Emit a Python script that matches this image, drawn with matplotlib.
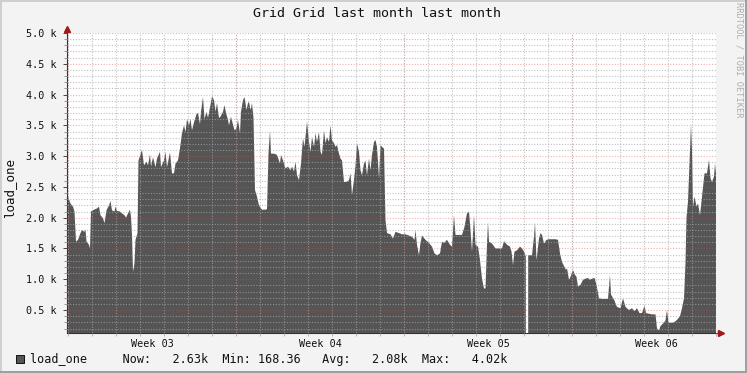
import numpy as np
import matplotlib
matplotlib.use('Agg')
import matplotlib.pyplot as plt
from matplotlib.ticker import MultipleLocator, FuncFormatter
from matplotlib.patches import Rectangle

# ---------------------------------------------
# data (hours since start, load in k)
# ---------------------------------------------
hours = [
    0, 2.5, 5, 6.5, 8, 10, 12.5, 14, 16.5, 17.5, 18.5, 21, 22, 23, 26, 29, 31, 32.5, 35, 36.5,
    38.5, 41, 42.5, 44, 46.5, 47.5, 49, 52, 54, 56.5, 58, 60, 62, 63, 64, 65, 66.5, 67.5, 69, 69.5,
    70.5, 74, 76, 78.5, 80, 82, 83, 85, 87.5, 89, 92, 93, 96, 97.5, 99, 102, 104, 106, 107.5, 110,
    112, 114, 116, 117.5, 119, 121, 122.5, 124, 126, 128.5, 130, 132, 133, 135, 136.5, 138.5, 140, 142.5, 144, 146,
    147.5, 149, 151, 152.5, 155, 156.5, 158, 160, 161, 163, 165, 166.5, 168.5, 170, 172, 173, 175, 176.5, 178.5, 180,
    181, 182.5, 184, 185.5, 187, 189, 191, 194, 197.5, 199, 200.5, 202, 203, 206, 209, 212, 213, 215, 217.5, 220,
    222.5, 224, 226, 227.5, 229, 231, 233, 235, 236.5, 239, 241, 242.5, 244, 246, 247.5, 249, 251, 252.5, 254, 256,
    257.5, 259, 261, 262.5, 264, 266, 267.5, 269, 271, 272.5, 274, 276, 278.5, 281, 282.5, 284, 286, 287.5, 289, 291,
    292.5, 294, 296, 297.5, 299, 301, 302.5, 304, 306, 307.5, 309, 311, 312.5, 314, 316, 317.5, 319, 322.5, 325, 327.5,
    331, 334, 337.5, 341, 344, 346.5, 347.5, 349, 351, 352.5, 354, 357.5, 361, 364, 366.5, 369, 372, 374, 376, 379,
    382, 384, 386, 387.5, 391, 394, 396.5, 399, 401, 402.5, 404, 406, 407.5, 410, 412, 414, 416, 417.5, 419, 420,
    421, 424, 427.5, 431, 434, 436, 439, 442, 443.5, 445, 446.5, 449, 452, 454, 456, 457.8, 459, 460.2, 464, 466,
    467, 468.5, 471, 472.5, 474, 476, 478.5, 481, 484, 487.5, 490, 492, 494, 496.5, 498, 499, 501, 502.5, 505, 507,
    508.5, 510, 512.5, 515, 517.5, 520, 522, 524, 526.5, 528.5, 531, 534, 537.5, 540, 542, 543, 546, 549, 552.5, 555,
    557.5, 561, 564, 566.5, 569, 571.5, 574, 576.5, 578, 581, 584, 587.5, 589, 591, 592.5, 595, 597.5, 599, 600.5, 602.5,
    606, 609, 612, 614, 616, 617.5, 618.5, 620, 622, 623, 624, 625, 626.5, 628.5, 630, 632, 634, 636.5, 639, 641,
    642.5, 644, 646, 647, 648.5,
]
load_k = [
    2.34, 2.23, 2.18, 2.10, 1.61, 1.64, 1.75, 1.80, 1.77, 1.81, 1.61, 1.56, 1.50, 2.10, 2.13, 2.15, 2.18, 2.04, 1.99, 1.91,
    2.12, 2.20, 2.27, 2.12, 2.10, 2.18, 2.11, 2.10, 2.07, 2.04, 2.00, 2.07, 2.13, 2.01, 1.72, 1.12, 1.26, 1.64, 1.72, 1.75,
    2.93, 3.10, 2.85, 2.91, 2.85, 3.03, 2.83, 2.98, 2.82, 2.96, 3.07, 2.82, 2.93, 3.07, 2.82, 3.06, 2.72, 2.72, 2.88, 2.93,
    3.13, 3.37, 3.50, 3.39, 3.60, 3.50, 3.60, 3.42, 3.55, 3.68, 3.70, 3.52, 3.72, 3.96, 3.60, 3.72, 3.62, 3.83, 3.97, 3.91,
    3.72, 3.86, 3.62, 3.64, 3.72, 3.83, 3.70, 3.59, 3.50, 3.64, 3.51, 3.42, 3.45, 3.59, 3.37, 3.72, 3.91, 3.96, 3.75, 3.86,
    3.88, 3.75, 3.86, 3.62, 2.45, 2.34, 2.20, 2.13, 2.13, 2.14, 3.04, 3.42, 3.04, 3.04, 3.02, 2.88, 3.02, 2.93, 2.80, 2.83,
    2.77, 2.83, 2.75, 2.91, 2.69, 2.61, 2.88, 3.29, 3.15, 3.56, 3.23, 3.07, 3.31, 3.15, 3.37, 3.23, 3.39, 3.07, 3.02, 3.42,
    3.21, 3.31, 3.23, 3.50, 3.26, 3.21, 3.15, 3.18, 3.04, 2.96, 2.93, 2.58, 2.58, 2.61, 2.72, 2.37, 2.61, 2.85, 3.21, 3.07,
    2.77, 2.69, 2.88, 2.93, 2.69, 2.96, 2.77, 3.02, 3.23, 3.26, 3.15, 2.64, 3.18, 3.15, 3.12, 1.96, 1.75, 1.73, 1.66, 1.77,
    1.75, 1.73, 1.73, 1.71, 1.69, 1.64, 1.80, 1.56, 1.39, 1.59, 1.71, 1.64, 1.59, 1.53, 1.42, 1.39, 1.42, 1.61, 1.59, 1.64,
    1.56, 1.53, 2.04, 1.72, 1.72, 1.72, 1.85, 2.07, 2.10, 1.80, 1.45, 2.04, 1.56, 1.53, 1.31, 1.01, 0.85, 0.85, 1.58, 1.93,
    1.61, 1.58, 1.50, 1.50, 1.50, 1.62, 1.56, 1.53, 1.45, 1.23, 1.45, 1.47, 1.53, 1.50, 1.45, 1.37, np.nan, 1.39, 1.39, 1.69,
    1.93, 1.31, 1.66, 1.75, 1.72, 1.58, 1.64, 1.65, 1.65, 1.65, 1.64, 1.42, 1.28, 1.20, 1.15, 1.18, 0.99, 1.04, 1.15, 1.07,
    1.04, 0.88, 0.91, 0.99, 1.01, 1.02, 0.99, 1.01, 1.02, 0.91, 0.69, 0.68, 0.68, 0.68, 1.07, 0.75, 0.67, 0.55, 0.53, 0.69,
    0.55, 0.50, 0.53, 0.48, 0.53, 0.45, 0.45, 0.57, 0.45, 0.44, 0.43, 0.43, 0.20, 0.17, 0.24, 0.28, 0.33, 0.50, 0.30, 0.29,
    0.30, 0.34, 0.40, 0.53, 0.69, 1.26, 2.01, 2.26, 3.10, 3.52, 3.10, 2.18, 2.34, 2.18, 2.23, 2.04, 2.34, 2.72, 2.72, 2.94,
    2.64, 2.58, 2.67, 2.88, 2.63,
]

week_starts = [0, 168, 336, 504]
week_labels = ['Week 03', 'Week 04', 'Week 05', 'Week 06']

title = 'Grid Grid last month last month'
series_name = 'load_one'
stat_now, stat_min, stat_avg, stat_max = '2.63k', '168.36', '2.08k', '4.02k'

y_min, y_max = 0.127, 5.0

# ---------------------------------------------
# figure
# ---------------------------------------------
W, H = 747, 373
mono = 'DejaVu Sans Mono'
plt.rcParams['font.family'] = mono

def fx(x):
    return x / W

def fy(y):
    return 1 - y / H

fig = plt.figure(figsize=(W / 100, H / 100), dpi=100, facecolor='#F3F3F3')
ax = fig.add_axes([fx(67), fy(333), 649 / W, 300 / H])
ax.set_facecolor('white')

t = np.array(hours, dtype=float)
y = np.array(load_k, dtype=float)
ax.fill_between(t, y, y_min, where=~np.isnan(y), color='#555555', lw=0, zorder=1)

ax.set_xlim(-1, 648)
ax.set_ylim(y_min, y_max)

# y axis
ax.yaxis.set_major_locator(MultipleLocator(0.5))
ax.yaxis.set_minor_locator(MultipleLocator(0.1))
ax.yaxis.set_major_formatter(FuncFormatter(lambda v, p: f'{v:.1f} k'))
ax.tick_params(axis='y', which='major', length=3, width=0.7, color='#444444',
               pad=4.5, labelsize=7.3, labelcolor='#111111')
ax.tick_params(axis='y', which='minor', length=2, width=0.6, color='#888888')

# x axis: labels mid-week, day grid
ax.set_xticks([w + 84 for w in week_starts], week_labels)
ax.xaxis.set_minor_locator(MultipleLocator(24))
ax.tick_params(axis='x', which='major', length=0, pad=4, labelsize=7.3, labelcolor='#111111')
ax.tick_params(axis='x', which='minor', length=2, width=0.6, color='#AAAAAA')

ax.set_axisbelow(False)
dots = (0, (1, 1.5))
ax.grid(which='minor', axis='both', color='#A8A8A8', alpha=0.7, lw=0.8, ls=dots)
ax.grid(which='major', axis='y', color='#E04848', alpha=0.42, lw=0.8, ls=dots)
ax.grid(which='major', axis='x', visible=False)
for w in week_starts:
    ax.axvline(w, color='#E04848', alpha=0.42, lw=0.8, ls=dots, zorder=2.5)

for s in ['top', 'right']:
    ax.spines[s].set_visible(False)
for s in ['left', 'bottom']:
    ax.spines[s].set_color('#333333')
    ax.spines[s].set_linewidth(0.8)

# axis arrows
ax.plot([0, 0], [1, 1.017], transform=ax.transAxes, color='#333333', lw=0.8, clip_on=False)
ax.plot([0], [1.015], marker='^', ms=4.5, color='#A01818', transform=ax.transAxes, clip_on=False)
ax.plot([1, 1.008], [0, 0], transform=ax.transAxes, color='#333333', lw=0.8, clip_on=False)
ax.plot([1.007], [0], marker='>', ms=4.5, color='#A01818', transform=ax.transAxes, clip_on=False)

# texts
fig.text(fx(376.7), fy(13.5), title, ha='center', va='center', fontsize=9.6, color='#111111')
fig.text(fx(10), fy(188), series_name, rotation=90, ha='center', va='center',
         fontsize=9, color='#111111')
fig.text(fx(738.5), fy(60), 'RRDTOOL / TOBI OETIKER', rotation=270, ha='center', va='center',
         fontsize=6.2, color='#ADADAD')

# legend
fig.add_artist(Rectangle((fx(16), fy(363)), 8 / W, 8 / H, transform=fig.transFigure,
                         facecolor='#555555', edgecolor='#111111', lw=0.7))
legend_line = (f'{series_name}     Now:   {stat_now}  Min: {stat_min}   '
               f'Avg:   {stat_avg}  Max:   {stat_max}')
fig.text(fx(30), fy(359), legend_line, ha='left', va='center', fontsize=8.5, color='#111111')

# 3d-ish frame
fig.add_artist(Rectangle((0, fy(2)), 1, 2 / H, transform=fig.transFigure, color='#CFCFCF', lw=0))
fig.add_artist(Rectangle((0, 0), 2 / W, 1, transform=fig.transFigure, color='#CFCFCF', lw=0))
fig.add_artist(Rectangle((0, 0), 1, 2 / H, transform=fig.transFigure, color='#9F9F9F', lw=0))
fig.add_artist(Rectangle((fx(745), 0), 2 / W, 1, transform=fig.transFigure, color='#9F9F9F', lw=0))

fig.savefig('out.png', dpi=100, facecolor=fig.get_facecolor())
